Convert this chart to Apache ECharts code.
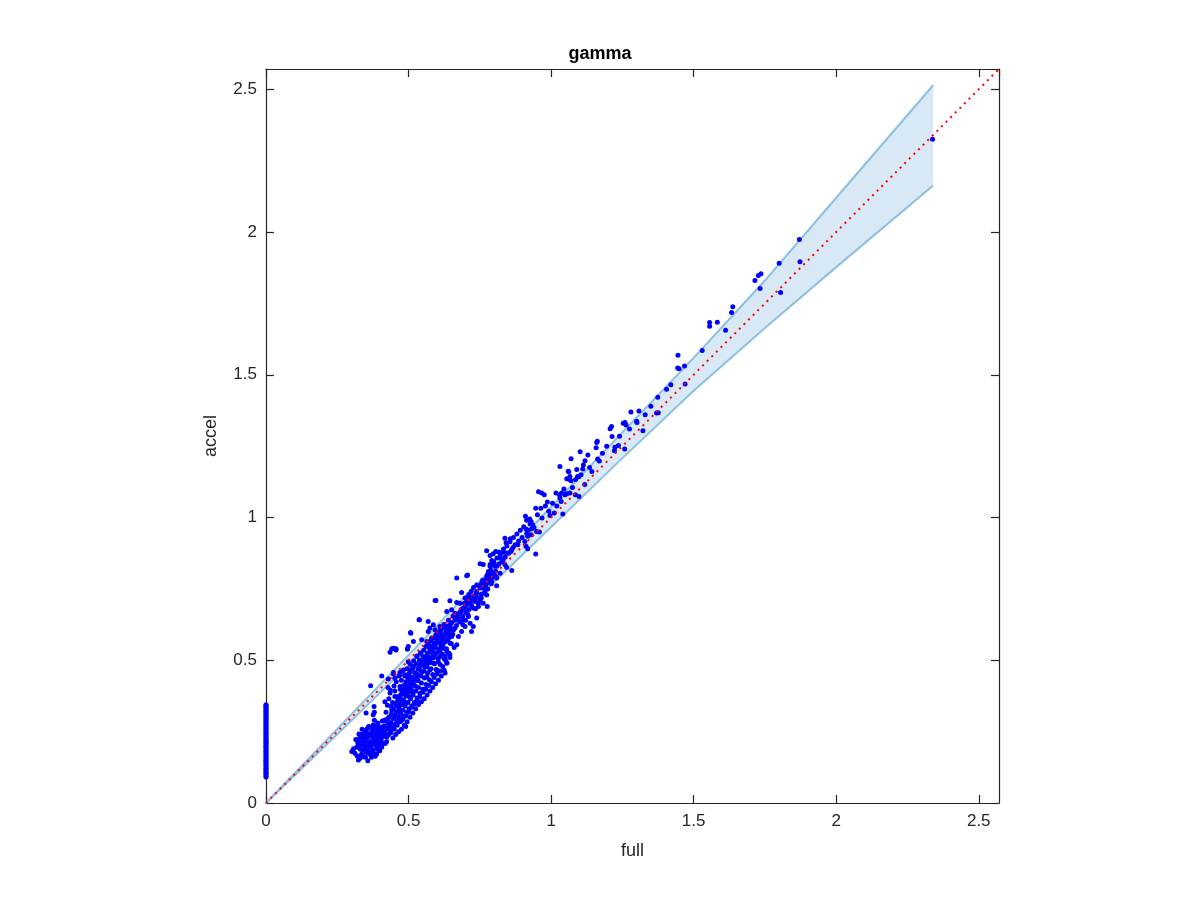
<!DOCTYPE html>
<html>
<head>
<meta charset="utf-8">
<script src="https://cdn.jsdelivr.net/npm/echarts@6/dist/echarts.min.js"></script>
<style>html,body{margin:0;padding:0;background:#fff;}#chart{width:1200px;height:900px;}</style>
</head>
<body>
<div id="chart"></div>
<script>
// ---- data ----
const titleText = 'gamma';
const xName = 'full';
const yName = 'accel';
const axisMax = 2.571;
const tickStep = 0.5;

// confidence band (x, upper, lower)
const bandX =     [0, 0.25,  0.5,   0.75,  1.0,   1.25,  1.5,   1.75,  2.0,   2.34];
const bandUpper = [0, 0.259, 0.518, 0.778, 1.037, 1.298, 1.559, 1.830, 2.120, 2.514];
const bandLower = [0, 0.241, 0.483, 0.725, 0.967, 1.208, 1.444, 1.664, 1.877, 2.163];

// points with full == 0
const zeroColumnY = [0.091,0.095,0.101,0.104,0.109,0.114,0.118,0.122,0.127,0.133,0.136,0.141,0.146,0.149,0.155,0.158,0.163,0.168,0.172,0.177,0.181,0.186,0.190,0.195,0.199,0.204,0.209,0.213,0.218,0.221,0.226,0.231,0.235,0.240,0.244,0.249,0.253,0.258,0.262,0.267,0.271,0.276,0.280,0.285,0.289,0.294,0.298,0.303,0.307,0.312,0.316,0.320,0.325,0.329,0.334,0.338,0.341,0.344];

const clusterPts = [[0.301,0.180],[0.312,0.174],[0.324,0.151],[0.330,0.157],[0.318,0.195],[0.322,0.210],[0.327,0.226],[0.331,0.188],[0.335,0.171],[0.338,0.203],[0.340,0.232],[0.342,0.162],[0.344,0.245],[0.346,0.190],[0.348,0.215],[0.351,0.178],[0.352,0.257],[0.354,0.199],[0.356,0.228],[0.357,0.148],[0.359,0.240],[0.361,0.185],[0.362,0.212],[0.364,0.266],[0.366,0.170],[0.367,0.235],[0.369,0.200],[0.371,0.250],[0.372,0.218],[0.374,0.186],[0.376,0.273],[0.378,0.228],[0.379,0.206],[0.381,0.244],[0.383,0.164],[0.384,0.259],[0.386,0.221],[0.388,0.195],[0.390,0.236],[0.392,0.280],[0.393,0.212],[0.395,0.251],[0.397,0.229],[0.399,0.183],[0.401,0.266],[0.402,0.241],[0.404,0.219],[0.406,0.195],[0.408,0.287],[0.410,0.255],[0.412,0.233],[0.414,0.270],[0.416,0.246],[0.418,0.208],[0.420,0.292],[0.423,0.215],[0.425,0.262],[0.427,0.279],[0.430,0.240],[0.432,0.301],[0.335,0.240],[0.328,0.200],[0.345,0.205],[0.358,0.175],[0.370,0.160],[0.388,0.172],[0.396,0.205],[0.355,0.260],[0.368,0.245],[0.380,0.290],[0.340,0.185],[0.350,0.230],[0.362,0.200],[0.375,0.215],[0.385,0.235],
[0.307,0.190],[0.315,0.222],[0.320,0.165],[0.326,0.242],[0.333,0.215],[0.337,0.258],[0.343,0.222],[0.349,0.160],[0.353,0.244],[0.360,0.268],[0.365,0.190],[0.373,0.262],[0.377,0.175],[0.382,0.210],[0.387,0.270],[0.391,0.188],[0.398,0.262],[0.403,0.232],[0.409,0.208],[0.413,0.288],[0.419,0.256],[0.424,0.232],[0.428,0.296],[0.434,0.270],[0.438,0.246]];

const lowerArmPts = [[0.435,0.255],[0.438,0.282],[0.440,0.312],[0.443,0.268],[0.446,0.296],[0.448,0.330],[0.451,0.275],[0.453,0.306],[0.455,0.345],[0.458,0.288],[0.460,0.320],[0.462,0.358],[0.465,0.300],[0.467,0.335],[0.470,0.372],[0.472,0.312],[0.474,0.348],[0.476,0.290],[0.478,0.385],[0.480,0.325],[0.482,0.361],[0.484,0.305],[0.486,0.398],[0.488,0.340],[0.490,0.268],[0.492,0.375],[0.494,0.318],[0.496,0.410],[0.498,0.352],[0.500,0.388],[0.502,0.330],[0.505,0.425],[0.507,0.365],[0.509,0.402],[0.511,0.340],[0.514,0.440],[0.516,0.378],[0.518,0.415],[0.520,0.352],[0.523,0.455],[0.525,0.392],[0.527,0.430],[0.530,0.368],[0.533,0.470],[0.535,0.405],[0.537,0.445],[0.540,0.384],[0.543,0.485],[0.545,0.420],[0.547,0.460],[0.550,0.398],[0.553,0.500],[0.556,0.438],[0.558,0.476],[0.561,0.415],[0.564,0.515],[0.567,0.455],[0.570,0.492],[0.573,0.432],[0.576,0.530],[0.579,0.470],[0.582,0.508],[0.585,0.450],[0.588,0.545],[0.591,0.488],[0.594,0.525],[0.597,0.468],[0.600,0.560],[0.604,0.505],[0.607,0.540],[0.611,0.485],[0.614,0.575],[0.618,0.522],[0.621,0.556],[0.625,0.505],[0.629,0.590],[0.633,0.540],[0.637,0.572],[0.641,0.525],[0.645,0.605],[0.650,0.558],[0.655,0.590],[0.660,0.545],
[0.457,0.318],[0.463,0.340],[0.469,0.325],[0.475,0.360],[0.481,0.345],[0.487,0.380],[0.493,0.352],[0.499,0.395],[0.503,0.372],[0.508,0.418],[0.513,0.390],[0.519,0.432],[0.524,0.410],[0.529,0.452],[0.534,0.428],[0.539,0.468],[0.544,0.445],[0.549,0.482],[0.554,0.462],[0.559,0.498],[0.565,0.478],[0.571,0.512],[0.577,0.492],[0.583,0.528],[0.589,0.510],[0.595,0.545],[0.602,0.528],[0.608,0.560],[0.615,0.548],[0.622,0.580],[0.628,0.565],[0.635,0.596],[0.642,0.580],[0.649,0.612]];

// lower-right edge of the cloud
const edgePts = [[0.445,0.228],[0.455,0.240],[0.465,0.250],[0.475,0.258],[0.485,0.272],[0.495,0.285],[0.505,0.300],[0.515,0.315],[0.525,0.330],[0.535,0.345],[0.545,0.355],[0.555,0.365],[0.565,0.378],[0.575,0.392],[0.585,0.405],[0.595,0.418],[0.605,0.430],[0.615,0.445],[0.625,0.465],[0.635,0.490],[0.645,0.510],
[0.450,0.258],[0.460,0.272],[0.470,0.285],[0.480,0.295],[0.490,0.305],[0.500,0.318],[0.510,0.335],[0.520,0.348],[0.530,0.360],[0.540,0.372],[0.550,0.388],[0.560,0.398],[0.570,0.412],[0.580,0.425],[0.590,0.440],[0.600,0.452],[0.610,0.462],[0.620,0.478],[0.630,0.500],[0.640,0.525]];

// interior of the cloud between the lower arm and the band
const interiorPts = [[0.421,0.318],[0.426,0.342],[0.431,0.365],[0.436,0.395],[0.428,0.405],[0.444,0.352],[0.449,0.410],[0.439,0.338],
[0.452,0.392],[0.457,0.425],[0.461,0.372],[0.466,0.445],[0.471,0.398],[0.475,0.430],[0.479,0.462],[0.483,0.412],[0.487,0.445],[0.491,0.425],[0.495,0.470],[0.498,0.438],[0.459,0.352],[0.473,0.380],[0.485,0.395],
[0.502,0.452],[0.506,0.485],[0.510,0.440],[0.514,0.470],[0.518,0.498],[0.522,0.455],[0.526,0.488],[0.530,0.515],[0.534,0.472],[0.538,0.500],[0.542,0.525],[0.546,0.490],[0.550,0.515],[0.512,0.418],[0.528,0.435],
[0.553,0.535],[0.557,0.505],[0.561,0.548],[0.566,0.525],[0.570,0.556],[0.574,0.540],[0.578,0.568],[0.583,0.550],[0.587,0.578],[0.591,0.560],[0.596,0.590],[0.600,0.575],[0.605,0.598],[0.609,0.582],[0.613,0.610],[0.558,0.488],[0.572,0.502],[0.586,0.515],
[0.624,0.625],[0.632,0.612],[0.640,0.640],[0.648,0.628],[0.656,0.655],[0.664,0.650],[0.672,0.642],[0.680,0.668],[0.688,0.680],[0.696,0.700],[0.704,0.712],[0.712,0.730],[0.720,0.742],[0.728,0.755],[0.736,0.722],[0.700,0.640],[0.708,0.660],[0.690,0.625],[0.735,0.680],[0.745,0.700],[0.755,0.718],[0.765,0.735],[0.778,0.750],[0.790,0.768]];

const upperScatterPts = [[0.406,0.445],[0.367,0.411],[0.429,0.434],[0.447,0.452],[0.470,0.457],[0.488,0.449],[0.505,0.460],[0.379,0.338],[0.380,0.318],[0.351,0.315],[0.376,0.309],[0.417,0.355],[0.435,0.385],[0.452,0.373],[0.470,0.408],[0.493,0.390],[0.482,0.361],[0.464,0.338],[0.441,0.326],[0.441,0.540],[0.456,0.540],[0.435,0.528],[0.496,0.539],[0.507,0.597],[0.537,0.642],[0.593,0.709],[0.499,0.548]];

const bodyPts = [[0.751,0.838],[0.786,0.835],[0.803,0.829],[0.797,0.805],[0.786,0.796],[0.807,0.793],[0.772,0.782],[0.757,0.770],[0.792,0.776],[0.809,0.761],[0.707,0.799],[0.669,0.788],[0.751,0.753],[0.739,0.741],[0.768,0.741],[0.774,0.729],[0.751,0.712],[0.727,0.714],[0.762,0.700],[0.745,0.688],[0.776,0.688],[0.727,0.683],[0.686,0.737],[0.698,0.718],[0.710,0.723],[0.680,0.700],[0.698,0.688],[0.716,0.700],[0.596,0.709],[0.645,0.708],[0.669,0.702],[0.651,0.677],[0.634,0.671],[0.663,0.665],[0.675,0.648],[0.692,0.642],[0.710,0.653],[0.716,0.630],[0.698,0.618],[0.727,0.618],[0.739,0.648],[0.663,0.613],[0.640,0.601],[0.651,0.583],[0.634,0.572],[0.675,0.583],[0.686,0.601],[0.721,0.601],[0.538,0.642],[0.569,0.636],[0.587,0.624],[0.575,0.613],[0.593,0.607],[0.569,0.601],[0.610,0.618],[0.616,0.589],[0.508,0.595],[0.517,0.566],[0.546,0.572],[0.564,0.566],[0.581,0.578],[0.599,0.560],[0.622,0.566],[0.645,0.560],[0.669,0.554],[0.622,0.542],[0.587,0.542],[0.447,0.542],[0.456,0.536],[0.496,0.539],[0.610,0.536],[0.634,0.531],[0.628,0.513],[0.645,0.519],[0.610,0.513],[0.593,0.519],[0.575,0.507],[0.604,0.495],[0.634,0.490],[0.587,0.490],[0.564,0.490],[0.552,0.501],[0.540,0.484],[0.517,0.478],[0.499,0.495],[0.529,0.513],[0.505,0.466],[0.546,0.460],[0.575,0.466],[0.599,0.466],[0.628,0.455],[0.564,0.443],[0.529,0.449],[0.482,0.466],[0.470,0.449],[0.447,0.457],[0.452,0.437],
[0.956,1.090],[0.967,1.086],[0.976,1.080],[1.017,1.086],[1.029,1.080],[1.049,1.080],[1.055,1.083],[1.085,1.080],[0.987,1.054],[0.946,1.032],[0.964,1.032],[1.031,1.068],[1.035,1.056],[1.011,1.016],[0.996,1.007],[0.910,1.004],[0.914,0.990],[0.930,0.986],[0.926,0.977],[0.935,0.975],[0.932,0.961],[0.920,0.955],[0.912,0.960],[0.930,0.940],[0.918,0.934],[0.949,0.951],[0.959,0.949],[0.908,0.916],[0.912,0.899],[0.918,0.891],[0.883,0.905],[0.838,0.927],[0.857,0.926],[0.842,0.912],[0.867,0.896],[0.859,0.881],[0.832,0.878],[0.844,0.876],[0.817,0.879],[0.806,0.881],[0.774,0.884],[0.786,0.867],[0.797,0.873],[0.946,0.872],[0.821,0.860],[0.792,0.849],[0.797,0.837],[0.786,0.829],[0.809,0.829],[0.838,0.835],[0.832,0.852],[0.862,0.814],[0.844,0.826],[0.762,0.835],[0.780,0.811],[0.792,0.805],[0.774,0.793],[0.786,0.785],[0.809,0.788],[0.821,0.805],[0.704,0.796],[0.739,0.764],[0.757,0.770],[0.766,0.767],[1.060,1.162],[1.066,1.144],[1.086,1.133],[1.093,1.144],
[0.612,0.600],[0.618,0.585],[0.625,0.612],[0.631,0.598],[0.638,0.620],[0.644,0.590],[0.652,0.632],[0.657,0.605],[0.663,0.640],[0.668,0.622],[0.674,0.660],[0.679,0.635],[0.684,0.672],[0.690,0.655],[0.695,0.683],[0.701,0.668],[0.706,0.695],[0.712,0.678],[0.717,0.712],[0.722,0.690],[0.728,0.725],[0.733,0.706],[0.738,0.735],[0.744,0.718],[0.749,0.760],[0.755,0.731],[0.760,0.780],[0.765,0.752],[0.771,0.762],[0.777,0.800],[0.782,0.772],[0.788,0.815],[0.793,0.790],[0.799,0.845],[0.805,0.812],[0.810,0.858],[0.816,0.836],[0.822,0.870],[0.827,0.845],[0.833,0.890],[0.839,0.862],[0.845,0.900],[0.851,0.875],[0.856,0.915],[0.862,0.888],[0.868,0.930],[0.874,0.905],[0.880,0.942],[0.886,0.918],[0.892,0.955],[0.898,0.930],[0.904,0.968],[0.915,0.945],[0.925,0.995],[0.940,0.965],[0.952,1.010],[0.968,0.998],[0.980,1.040],[0.992,1.022],[1.005,1.050],[1.020,1.040],[1.045,1.100],[1.075,1.105],[1.105,1.150],[1.135,1.175],[1.180,1.225],[1.195,1.250],[1.240,1.285],[1.275,1.310],[1.330,1.360],[1.350,1.390],[1.420,1.465]];

const highPts = [[1.037,1.086],[1.049,1.082],[1.066,1.086],[1.098,1.074],[1.118,1.116],[1.143,1.161],[1.097,1.143],[1.055,1.136],[1.064,1.133],[1.070,1.129],[1.062,1.160],[1.041,1.012],[1.031,1.179],[1.090,1.168],[1.111,1.170],[1.102,1.230],[1.129,1.219],[1.070,1.206],[1.119,1.199],[1.113,1.184],[1.163,1.205],[1.169,1.198],[1.160,1.263],[1.162,1.267],[1.158,1.244],[1.224,1.246],[1.236,1.252],[1.222,1.234],[1.258,1.240],[1.214,1.284],[1.212,1.319],[1.207,1.311],[1.253,1.330],[1.259,1.333],[1.263,1.324],[1.300,1.337],[1.301,1.333],[1.322,1.304],[1.280,1.370],[1.308,1.373],[1.370,1.366],[1.376,1.367],[1.374,1.421],[1.405,1.449],[1.470,1.468],[1.445,1.568],[1.444,1.524],[1.449,1.521],[1.468,1.531],[1.530,1.585],[1.556,1.683],[1.556,1.670],[1.583,1.684],[1.612,1.656],[1.637,1.738],[1.633,1.718],[1.715,1.830],[1.727,1.848],[1.736,1.854],[1.733,1.802],[1.800,1.891],[1.805,1.788],[1.871,1.974],[1.873,1.896],[2.338,2.325]];

// ---- build ----
const scatterData = zeroColumnY.map(y => [0, y])
  .concat(clusterPts, lowerArmPts, edgePts, interiorPts, upperScatterPts, bodyPts, highPts);
const bandUpperData = bandX.map((x, i) => [x, bandUpper[i]]);
const bandLowerData = bandX.map((x, i) => [x, bandLower[i]]);

const axisColor = '#262626';
const fontFam = '"Liberation Sans", Arial, Helvetica, sans-serif';

function mkAxis(pos, isX, showLabel, name) {
  return {
    type: 'value', position: pos, min: 0, max: axisMax, interval: tickStep,
    name: name || '', nameLocation: 'middle',
    nameGap: isX ? 39 : 46,
    nameTextStyle: { color: axisColor, fontSize: 18, fontFamily: fontFam },
    axisLine: { show: true, onZero: false, lineStyle: { color: axisColor, width: 1.2 } },
    axisTick: { show: true, inside: true, length: 8, lineStyle: { color: axisColor, width: 1.2 } },
    axisLabel: { show: showLabel, color: axisColor, fontSize: 17, fontFamily: fontFam,
                 margin: isX ? 10 : 9, showMaxLabel: false, showMinLabel: true,
                 formatter: v => String(v) },
    splitLine: { show: false }
  };
}

const chart = echarts.init(document.getElementById('chart'), null, { renderer: 'canvas' });
chart.setOption({
  animation: false,
  backgroundColor: '#ffffff',
  title: { text: titleText, left: 'center', top: 40,
           textStyle: { fontSize: 18, fontWeight: 'bold', color: '#000', fontFamily: fontFam } },
  grid: { left: 266, top: 69, width: 733, height: 734, containLabel: false },
  xAxis: [mkAxis('bottom', true, true, xName), mkAxis('top', true, false)],
  yAxis: [mkAxis('left', false, true, yName), mkAxis('right', false, false)],
  series: [
    {
      type: 'custom', xAxisIndex: 0, yAxisIndex: 0, silent: true, z: 1,
      data: [[0, 0]],
      renderItem: function (params, api) {
        const pts = [];
        for (let i = 0; i < bandX.length; i++) pts.push(api.coord([bandX[i], bandUpper[i]]));
        for (let i = bandX.length - 1; i >= 0; i--) pts.push(api.coord([bandX[i], bandLower[i]]));
        return { type: 'polygon', shape: { points: pts }, style: { fill: '#d8e8f4' } };
      }
    },
    { type: 'line', data: bandUpperData, symbol: 'none', z: 2, silent: true,
      lineStyle: { color: '#8cc0e2', width: 2 } },
    { type: 'line', data: bandLowerData, symbol: 'none', z: 2, silent: true,
      lineStyle: { color: '#8cc0e2', width: 2 } },
    { type: 'scatter', data: scatterData, symbol: 'circle', symbolSize: 5, z: 3,
      itemStyle: { color: '#0000ff', opacity: 1 } },
    { type: 'line', data: [[0, 0], [axisMax, axisMax]], symbol: 'none', z: 4, silent: true,
      lineStyle: { color: '#ff0000', width: 2, type: [2, 4.5] } }
  ]
});
</script>
</body>
</html>
